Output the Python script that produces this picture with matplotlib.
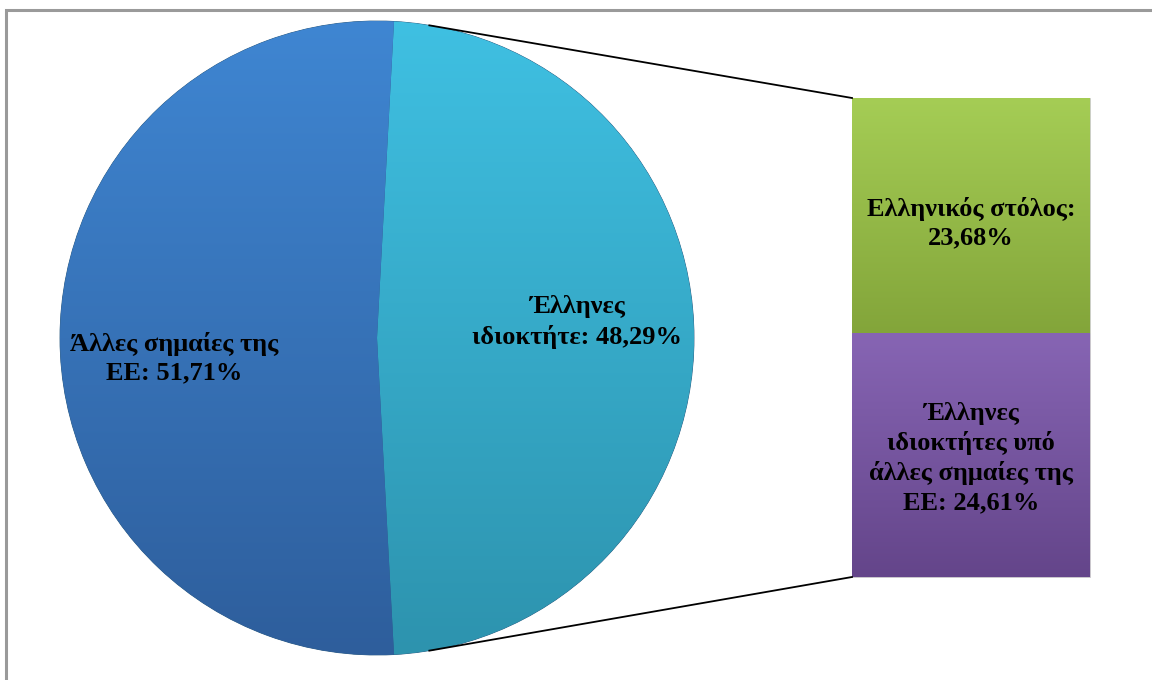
import numpy as np
import matplotlib
matplotlib.use("Agg")
import matplotlib.pyplot as plt
from matplotlib.colors import LinearSegmentedColormap

# pie: Greek owners vs other EU flags
pie_labels = ["Έλληνες\nιδιοκτήτε: 48,29%", "Άλλες σημαίες της\nΕΕ: 51,71%"]
pie_values = [48.29, 51.71]
pie_colors = [("#3fc0e2", "#2d93ae"), ("#3f86d2", "#2e5e9c")]

# bar: breakdown of the Greek owners slice
bar_labels = ["Έλληνες\nιδιοκτήτες υπό\nάλλες σημαίες της\nΕΕ: 24,61%", "Ελληνικός στόλος:\n23,68%"]
bar_values = [24.61, 23.68]
bar_colors = [("#8765b4", "#64458a"), ("#a5cd55", "#83a53a")]

W, H = 1152, 680
plt.rcParams["font.family"] = ["Liberation Serif", "DejaVu Serif"]
FS = 19
LS = 1.32

fig = plt.figure(figsize=(W / 100, H / 100), dpi=100)
ax = fig.add_axes([0, 0, 1, 1])

# chart border (only top/left edges inside the picture)
ax.add_patch(plt.Rectangle((6, -10), W, H, fill=False,
                           edgecolor="#9a9a9a", linewidth=2.2, zorder=0))


def gradient_fill(patch, c_top, c_bot, extent):
    cmap = LinearSegmentedColormap.from_list("g", [c_bot, c_top])
    grad = np.linspace(0, 1, 256).reshape(-1, 1)
    im = ax.imshow(grad, cmap=cmap, origin="lower", extent=extent,
                   aspect="auto", zorder=patch.get_zorder() + 0.1)
    im.set_clip_path(patch)


# pie
cx, cy, r = 377, 342, 317
span = pie_values[0] / sum(pie_values) * 360
start = span / 2
wedges, texts = ax.pie(pie_values, startangle=start, counterclock=False,
                       center=(cx, cy), radius=r, frame=True,
                       wedgeprops=dict(edgecolor="#2a5a80", linewidth=0.6))
ax.set_xlim(0, W)
ax.set_ylim(0, H)
ax.set_aspect("equal")
ax.axis("off")
for w, (ct, cb) in zip(wedges, pie_colors):
    w.set_facecolor(cb)
    gradient_fill(w, ct, cb, (cx - r, cx + r, cy - r, cy + r))

ax.text(577, 358, pie_labels[0], ha="center", va="center", fontsize=FS,
        fontweight="bold", linespacing=LS, zorder=5)
ax.text(174, 322, pie_labels[1], ha="center", va="center", fontsize=FS,
        fontweight="bold", linespacing=LS, zorder=5)

# bar of pie
bx0, bx1 = 852, 1090
b_bottom, b_top = 103, 582
k = (b_top - b_bottom) / sum(bar_values)
bottom = b_bottom
for val, (ct, cb) in zip(bar_values, bar_colors):
    rect = ax.bar((bx0 + bx1) / 2, val * k, width=bx1 - bx0, bottom=bottom,
                  color=cb, edgecolor="#cfcfcf", linewidth=0.6, zorder=2)[0]
    gradient_fill(rect, ct, cb, (bx0, bx1, bottom, bottom + val * k))
    bottom += val * k

ax.text(971, 457, bar_labels[1], ha="center", va="center",
        fontsize=FS, fontweight="bold", linespacing=LS, zorder=5)
ax.text(971, 222, bar_labels[0], ha="center", va="center", fontsize=FS,
        fontweight="bold", linespacing=LS, zorder=5)

# connector lines
ang = np.deg2rad(80.5)
ax.plot([cx + r * np.cos(ang), bx0], [cy + r * np.sin(ang), b_top],
        color="black", linewidth=1.3, zorder=3)
ax.plot([cx + r * np.cos(ang), bx0], [cy - r * np.sin(ang), b_bottom],
        color="black", linewidth=1.3, zorder=3)

fig.savefig("out.png", dpi=100)
